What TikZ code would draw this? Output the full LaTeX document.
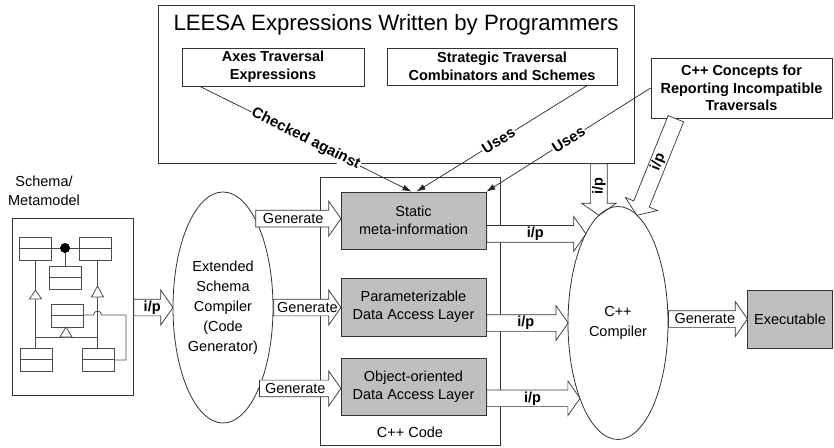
\documentclass[tikz,border=0pt]{standalone}
\usepackage{fontspec}
\setmainfont{Liberation Sans}
\usetikzlibrary{shapes.geometric,shapes.arrows,arrows.meta,calc}

\tikzset{
  box/.style={draw=black!80, line width=0.8pt, align=center, inner sep=2pt},
  graybox/.style={box, fill=black!25, font=\fontsize{14.5}{18}\selectfont},
  bold/.style={font=\fontsize{14.5}{17.5}\selectfont\bfseries},
  fatarrow/.style={single arrow, draw=black!80, line width=0.7pt, fill=white,
    inner sep=0pt, text height=16pt, text depth=0pt,
    single arrow head extend=9pt, single arrow tip angle=110},
  uses/.style={draw=black!85, line width=0.7pt, -{Latex[length=9pt,width=6pt]}},
  usestext/.style={sloped, fill=white, inner sep=1pt, font=\fontsize{15}{18}\selectfont\bfseries},
  iptext/.style={inner sep=0pt, font=\fontsize{14.5}{17}\selectfont\bfseries},
  gentext/.style={inner sep=0pt},
  uml/.style={draw=black!70, line width=0.8pt},
}

% block arrow from #1 (tail) to #2 (tip), named #3
\newcommand{\fatarrow}[3]{%
  \path let \p1=($(#2)-(#1)$), \n1={atan2(\y1,\x1)}, \n2={veclen(\x1,\y1)} in
    node[fatarrow, rotate=\n1, minimum height=\n2, anchor=tail] (#3) at (#1) {};}
% small class symbol of the schema
\newcommand{\umlclass}[2]{\draw[uml] (#1,#2) rectangle ++(32,23) (#1,#2+11.5) -- ++(32,0);}

\begin{document}
\begin{tikzpicture}[x=1pt, y=-1pt, font=\fontsize{14.5}{19}\selectfont]
  \path[fill=white, use as bounding box] (0,0) rectangle (834,447);

  % LEESA expressions
  \node[box, minimum width=476, minimum height=158] (LEESA) at (396,84) {};
  \node[font=\fontsize{22.2}{26}\selectfont] (title) at (396,25) {LEESA Expressions Written by Programmers};
  \node[box, bold, minimum width=182, minimum height=38] (ATE) at (273,67) {Axes Traversal\\Expressions};
  \node[box, bold, minimum width=230, minimum height=37] (STC) at (502,66.5) {Strategic Traversal\\Combinators and Schemes};
  \node[box, bold, minimum width=181, minimum height=60] (CCB) at (741.5,88) {C++ Concepts for\\Reporting Incompatible\\Traversals};

  % schema
  \node[align=center] (SMlbl) at (44,191) {Schema/\\Metamodel};
  \node[box, minimum width=121, minimum height=177] (SMB) at (72.5,306.5) {};
  \umlclass{19}{237} \umlclass{79}{237} \umlclass{49}{266}
  \umlclass{51}{304} \umlclass{20}{348} \umlclass{82}{348}
  \draw[uml] (51,248) -- (79,248) (65,248) -- (65,266);
  \fill[black] (65,248) circle[radius=5pt];
  \draw[uml] (35.5,260) -- (35.5,290) (35.5,299) -- (35.5,348);
  \draw[uml, fill=white] (35.5,290) -- (29.5,299) -- (41.5,299) -- cycle;
  \draw[uml] (35.5,337) -- (97.5,337);
  \draw[uml, fill=white] (66,327) -- (60,337) -- (72,337) -- cycle;
  \draw[uml] (97.5,260) -- (97.5,286) (97.5,297) -- (97.5,348);
  \draw[uml, fill=white] (97.5,286) -- (91.5,297) -- (103.5,297) -- cycle;
  \draw[uml] (83,315) -- (93.5,315) arc[start angle=180, end angle=0, radius=4pt] -- (126,315) -- (126,360) -- (114,360);

  % generated code
  \node[box, minimum width=180, minimum height=268] (CODE) at (410,311) {};
  \node (CODElbl) at ($(CODE.south)+(0,-13)$) {C++ Code};
  \node[graybox, minimum width=145, minimum height=57] (SMI) at (413.5,220.5) {Static\\meta-information};
  \node[graybox, minimum width=145, minimum height=58] (PDA) at (413.5,307) {Parameterizable\\Data Access Layer};
  \node[graybox, minimum width=145, minimum height=57] (OODA) at (413.5,386.5) {Object-oriented\\Data Access Layer};
  \node[graybox, minimum width=85, minimum height=58] (EXE) at (790,319) {Executable};

  \node[draw=black!80, line width=0.8pt, ellipse, inner sep=0pt, minimum width=100, minimum height=231,
    align=center, font=\fontsize{14.5}{20}\selectfont] (ESC) at (223,307.5) {Extended\\Schema\\Compiler\\(Code\\Generator)};
  \node[ellipse, inner sep=0pt, minimum width=100, minimum height=233,
    align=center, font=\fontsize{14.5}{20}\selectfont] (CPP) at (618,323) {C++\\Compiler};

  % block arrows
  \coordinate (a0) at (SMB.east |- ESC.west);
  \coordinate (g1) at (ESC.70 -| SMI.west);
  \coordinate (g2) at (ESC.east -| PDA.west);
  \coordinate (g3) at (ESC.294 -| OODA.west);
  \coordinate (p1) at (SMI.east |- CPP.110);
  \coordinate (p2) at (PDA.east |- CPP.west);
  \coordinate (p3) at (OODA.east |- CPP.243);
  \coordinate (p4) at (CPP.100 |- LEESA.south);
  \coordinate (p5) at ($(CCB.south west)!0.14!(CCB.south east)$);
  \coordinate (p6) at (CPP.east |- EXE.west);
  \fatarrow{a0}{ESC.west}{ip0}
  \fatarrow{ESC.70}{g1}{gen1}
  \fatarrow{ESC.east}{g2}{gen2}
  \fatarrow{ESC.294}{g3}{gen3}
  \fatarrow{p1}{CPP.110}{ip1}
  \fatarrow{p2}{CPP.west}{ip2}
  \fatarrow{p3}{CPP.243}{ip3}
  \fatarrow{p4}{CPP.100}{ip4}
  \fatarrow{p5}{CPP.80}{ip5}
  \fatarrow{p6}{EXE.west}{gen4}
  \draw[draw=black!80, line width=0.8pt] (CPP.center) ellipse [x radius=50, y radius=116.5];

  \node[gentext] (gen1t) at ($(gen1.tail)!0.44!(gen1.tip)$) {Generate};
  \node[gentext] (gen2t) at ($(gen2.tail)!0.5!(gen2.tip)$) {Generate};
  \node[gentext] (gen3t) at ($(gen3.tail)!0.44!(gen3.tip)$) {Generate};
  \node[gentext] (gen4t) at ($(gen4.tail)!0.46!(gen4.tip)$) {Generate};
  \node[iptext] (ip0t) at ($(ip0.tail)!0.47!(ip0.tip)$) {i/p};
  \node[iptext] (ip1t) at ($(ip1.tail)!0.49!(ip1.tip)$) {i/p};
  \node[iptext] (ip2t) at ($(ip2.tail)!0.48!(ip2.tip)$) {i/p};
  \node[iptext] (ip3t) at ($(ip3.tail)!0.49!(ip3.tip)$) {i/p};
  \node[iptext, rotate=90] (ip4t) at ($(ip4.tail)!0.44!(ip4.tip)$) {i/p};
  \node[iptext, rotate=68] (ip5t) at ($(ip5.tail)!0.45!(ip5.tip)$) {i/p};

  % checked against / uses
  \coordinate (c0) at ($(ATE.south west)!0.1!(ATE.south east)$);
  \coordinate (u0) at ($(STC.south west)!0.87!(STC.south east)$);
  \draw[uses] (c0) -- node[usestext] (chk) {Checked against} ([xshift=-2pt]SMI.north);
  \draw[uses] (u0) -- node[usestext, pos=0.52] (uses1) {Uses} ([xshift=3pt]SMI.north);
  \draw[uses] (CCB.west) -- node[usestext] (uses2) {Uses} (SMI.north east);
\end{tikzpicture}
\end{document}
